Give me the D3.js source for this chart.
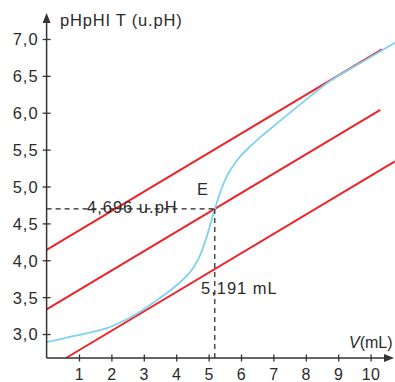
<!DOCTYPE html>
<html>
<head>
<meta charset="utf-8">
<script src="https://cdn.jsdelivr.net/npm/d3@7"></script>
<style>
  html, body { margin: 0; padding: 0; background: #fff; }
  svg { display: block; }
  text { font-family: "Liberation Sans", Arial, Helvetica, sans-serif; fill: #2b2b2b; }
</style>
</head>
<body>
<svg id="chart" width="395" height="382"></svg>
<script>
// Titration curve pH = f(V) with the parallel-tangent construction
const xTicks = [1, 2, 3, 4, 5, 6, 7, 8, 9, 10];
const yTicks = [3.0, 3.5, 4.0, 4.5, 5.0, 5.5, 6.0, 6.5, 7.0];

// Measured curve: [V (mL), pH]
const curveV  = [0, 0.81, 1.86, 2.57, 2.88, 3.28, 3.9, 4.43, 4.7, 4.95, 5.191, 5.4, 5.6, 5.8, 6.0, 6.3, 6.6, 6.9, 7.82, 8.75, 9.67, 10.75];
const curvePH = [2.89, 2.97, 3.08, 3.22, 3.30, 3.42, 3.62, 3.84, 4.03, 4.33, 4.696, 4.97, 5.17, 5.31, 5.42, 5.55, 5.67, 5.78, 6.11, 6.43, 6.67, 6.95];

// Tangent lines (top, middle, bottom): end points [V, pH]
const tangentStart = [[0, 4.14], [0, 3.333], [0.6, 2.675]];
const tangentEnd   = [[10.35, 6.86], [10.3, 6.04], [10.75, 5.342]];

// Equivalence point
const eqV = 5.191;
const eqPH = 4.696;

const svg = d3.select("#chart");
const x = d3.scaleLinear().domain([0, 10]).range([46.6, 370.6]);
const y = d3.scaleLinear().domain([2.675, 7.0]).range([358, 39]);

const axisColor = "#333";
const fmt = v => d3.format(".1f")(v).replace(".", ",");
const fmt3 = v => d3.format(".3f")(v).replace(".", ",");

// Tangent lines
const tangents = tangentStart.map((s, i) => [s, tangentEnd[i]]);
svg.append("g").selectAll("line").data(tangents).join("line")
  .attr("x1", d => x(d[0][0])).attr("y1", d => y(d[0][1]))
  .attr("x2", d => x(d[1][0])).attr("y2", d => y(d[1][1]))
  .attr("stroke", "#ec2329").attr("stroke-width", 2);

// Titration curve
const pts = curveV.map((v, i) => [v, curvePH[i]]);
svg.append("path").datum(pts)
  .attr("fill", "none").attr("stroke", "#7fd2ee").attr("stroke-width", 1.8)
  .attr("d", d3.line().x(d => x(d[0])).y(d => y(d[1])).curve(d3.curveCatmullRom.alpha(0.5)));

// Dashed projections of E
svg.append("line")
  .attr("x1", x(0)).attr("x2", x(eqV)).attr("y1", y(eqPH)).attr("y2", y(eqPH))
  .attr("stroke", "#222").attr("stroke-width", 1.2).attr("stroke-dasharray", "5,4");
svg.append("line")
  .attr("x1", x(eqV)).attr("x2", x(eqV)).attr("y1", y(eqPH)).attr("y2", y(2.675))
  .attr("stroke", "#222").attr("stroke-width", 1.2).attr("stroke-dasharray", "5,4");

// Axes
const gx = svg.append("g").attr("transform", `translate(0,${y(2.675)})`)
  .call(d3.axisBottom(x).tickValues(xTicks).tickSize(0).tickPadding(0).tickFormat(d3.format("d")));
gx.select(".domain").remove();
gx.selectAll(".tick line").attr("y1", -3.5).attr("y2", 3.5).attr("stroke", axisColor).attr("stroke-width", 1.3);
gx.selectAll(".tick text").attr("y", 22).attr("dy", 0)
  .style("font-size", "16px").style("letter-spacing", "0.5px").attr("fill", "#2b2b2b")
  .attr("font-family", null);

const gy = svg.append("g").attr("transform", `translate(${x(0)},0)`)
  .call(d3.axisLeft(y).tickValues(yTicks).tickSize(0).tickPadding(0).tickFormat(fmt));
gy.select(".domain").remove();
gy.selectAll(".tick line").attr("x1", -4).attr("x2", 4).attr("stroke", axisColor).attr("stroke-width", 1.3);
gy.selectAll(".tick text").attr("x", -8).attr("dy", "0.36em")
  .style("font-size", "16.5px").style("letter-spacing", "1px").attr("fill", "#2b2b2b")
  .attr("font-family", null);

// Axis lines with arrow heads
svg.append("line").attr("x1", x(0)).attr("x2", x(0)).attr("y1", y(2.675)).attr("y2", 20)
  .attr("stroke", axisColor).attr("stroke-width", 1.5);
svg.append("path").attr("d", `M${x(0)},13 L${x(0) - 4},23 L${x(0) + 4},23 Z`).attr("fill", axisColor);
svg.append("line").attr("x1", x(0)).attr("x2", 387).attr("y1", y(2.675)).attr("y2", y(2.675))
  .attr("stroke", axisColor).attr("stroke-width", 1.5);
svg.append("path").attr("d", `M394,${y(2.675)} L384,${y(2.675) - 4} L384,${y(2.675) + 4} Z`).attr("fill", axisColor);

// Axis titles
svg.append("text").attr("x", 60).attr("y", 26)
  .style("font-size", "16.5px").style("letter-spacing", "0.8px").text("pHpHI T (u.pH)");
const vt = svg.append("text").attr("x", 349).attr("y", 348).style("font-size", "16px");
vt.append("tspan").attr("font-style", "italic").text("V");
vt.append("tspan").text("(mL)");

// Annotations
svg.append("text").attr("x", 197).attr("y", 195).style("font-size", "16.5px").text("E");
svg.append("text").attr("x", 87).attr("y", 213)
  .style("font-size", "16.5px").style("letter-spacing", "1px").text(fmt3(eqPH) + " u.pH");
svg.append("text").attr("x", 201).attr("y", 294)
  .style("font-size", "16.5px").style("letter-spacing", "1px").text(fmt3(eqV) + " mL");
</script>
</body>
</html>
